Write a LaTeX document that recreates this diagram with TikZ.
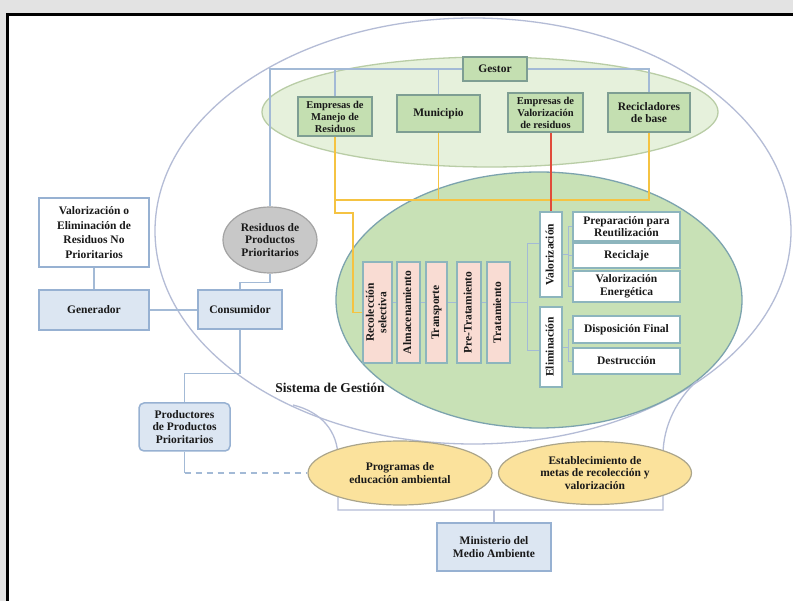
\documentclass[tikz,border=0pt]{standalone}
\usepackage{fontspec}
\usepackage{graphicx}
\setmainfont{Liberation Serif}
\usetikzlibrary{shapes.geometric,calc}
\pgfdeclarelayer{back}
\pgfdeclarelayer{bg}
\pgfsetlayers{back,bg,main}
\definecolor{bggray}{HTML}{E3E3E3}
\definecolor{outerbd}{HTML}{B4BCD6}
\definecolor{lgfill}{HTML}{E6F1DC}
\definecolor{lgbd}{HTML}{B9CDA6}
\definecolor{ggfill}{HTML}{C8E1B6}
\definecolor{ggbd}{HTML}{7CA3AE}
\definecolor{gboxfill}{HTML}{C4DFB1}
\definecolor{gboxbd}{HTML}{7E9E93}
\definecolor{bfill}{HTML}{DCE6F2}
\definecolor{bbd}{HTML}{97B1D2}
\definecolor{lnblue}{HTML}{A3BAD6}
\definecolor{pfill}{HTML}{F9DCD3}
\definecolor{tealbd}{HTML}{8DB5BD}
\definecolor{yfill}{HTML}{FBE29C}
\definecolor{ybd}{HTML}{ABA58B}
\definecolor{grfill}{HTML}{C8C8C8}
\definecolor{grbd}{HTML}{A3A3A3}
\definecolor{yline}{HTML}{F5C342}
\definecolor{rline}{HTML}{E04B3A}
\tikzset{
  txt/.style={font=\bfseries\fontsize{11.5}{12.5}\selectfont, align=center, inner sep=0pt, text=black!90},
  stdbox/.style={txt, rectangle, line width=1.5pt},
  gbox/.style={stdbox, draw=gboxbd, fill=gboxfill},
  bbox/.style={stdbox, draw=bbd, fill=bfill},
  wbox/.style={stdbox, draw=bbd, fill=white},
  pbox/.style={stdbox, draw=tealbd, fill=pfill, line width=1.8pt},
  tbox/.style={stdbox, draw=tealbd, fill=white, line width=1.8pt},
  yell/.style={txt, ellipse, draw=ybd, fill=yfill, line width=1.2pt},
  bl/.style={draw=lnblue, line width=1.4pt},
  thinl/.style={draw=lnblue, line width=0.9pt},
  yl/.style={draw=yline, line width=1.4pt},
  rd/.style={draw=rline, line width=1.4pt},
}
\newcommand{\vtext}[1]{\rotatebox{90}{\begin{tabular}{@{}c@{}}#1\end{tabular}}}
\begin{document}
\begin{tikzpicture}[x=1pt,y=-1pt]
\useasboundingbox (0,0) rectangle (793,601);

\begin{pgfonlayer}{back}
\fill[bggray] (0,0) rectangle (793,601);
\fill[white] (8,15) rectangle (793,601);
\draw[black, line width=3pt] (7.5,601) -- (7.5,14.5) -- (793,14.5);
\node[ellipse, draw=outerbd, line width=1.3pt, minimum width=636, minimum height=426, inner sep=0pt] (sistema) at (473,231) {};
\node[ellipse, draw=lgbd, fill=lgfill, line width=1.3pt, minimum width=456, minimum height=110, inner sep=0pt] (gzone) at (490,112) {};
\node[ellipse, draw=ggbd, fill=ggfill, line width=1.3pt, minimum width=406, minimum height=256, inner sep=0pt] (pzone) at (539,300) {};
\end{pgfonlayer}

% top green boxes
\node[gbox, minimum width=64, minimum height=24] (gestor) at (495,69) {Gestor};
\node[gbox, minimum width=74, minimum height=39, font=\bfseries\fontsize{10.5}{12}\selectfont] (emanejo) at (335,116.5) {Empresas de\\Manejo de\\Residuos};
\node[gbox, minimum width=83, minimum height=37] (municipio) at (438.5,113.5) {Municipio};
\node[gbox, minimum width=75, minimum height=39, font=\bfseries\fontsize{10.5}{12}\selectfont] (evalor) at (545.5,112.5) {Empresas de\\Valorización\\de residuos};
\node[gbox, minimum width=82, minimum height=39] (recicl) at (649,112.5) {Recicladores\\de base};

% left side
\node[wbox, minimum width=110, minimum height=69, font=\bfseries\fontsize{11.5}{14.5}\selectfont] (valelim) at (94,232.5) {Valorización o\\Eliminación de\\Residuos No\\Prioritarios};
\node[bbox, minimum width=110, minimum height=40] (generador) at (94,310) {Generador};
\node[bbox, minimum width=84, minimum height=39] (consumidor) at (240,309.5) {Consumidor};
\node[txt, ellipse, draw=grbd, fill=grfill, line width=1.2pt, minimum width=94, minimum height=66] (residuos) at (270,240) {Residuos de\\Productos\\Prioritarios};
\node[bbox, rounded corners=5pt, minimum width=91, minimum height=48] (productores) at (184.5,427) {Productores\\de Productos\\Prioritarios};

% process boxes
\node[pbox, minimum width=29, minimum height=101] (rec) at (377.5,312.5) {\vtext{Recolección\\selectiva}};
\node[pbox, minimum width=23, minimum height=101] (alm) at (408.5,312.5) {\vtext{Almacenamiento}};
\node[pbox, minimum width=21, minimum height=101] (tra) at (436.5,312.5) {\vtext{Transporte}};
\node[pbox, minimum width=24, minimum height=101] (pre) at (469,312.5) {\vtext{Pre-Tratamiento}};
\node[pbox, minimum width=23, minimum height=101] (trat) at (498.5,312.5) {\vtext{Tratamiento}};
\node[tbox, minimum width=22, minimum height=85] (valoriz) at (551,254.5) {\vtext{Valorización}};
\node[tbox, minimum width=22, minimum height=80] (elim) at (551,347) {\vtext{Eliminación}};

% right boxes
\node[tbox, minimum width=107, minimum height=29] (prep) at (626.5,226.5) {Preparación para\\Reutilización};
\node[tbox, minimum width=107, minimum height=25] (recic) at (626.5,255.5) {Reciclaje};
\node[tbox, minimum width=107, minimum height=31] (venerg) at (626.5,286.5) {Valorización\\Energética};
\node[tbox, minimum width=107, minimum height=27] (dispf) at (626.5,329.5) {Disposición Final};
\node[tbox, minimum width=107, minimum height=26] (destr) at (626.5,361) {Destrucción};

% bottom
\node[yell, minimum width=184, minimum height=64] (programas) at (400,473) {Programas de\\educación ambiental};
\node[yell, minimum width=193, minimum height=63] (establec) at (595,473) {Establecimiento de\\metas de recolección y\\valorización};
\node[bbox, minimum width=114, minimum height=48] (ministerio) at (494,547) {Ministerio del\\Medio Ambiente};

\node[txt, font=\bfseries\fontsize{13.5}{15}\selectfont] (sislabel) at (330,388) {Sistema de Gestión};

\begin{pgfonlayer}{bg}
% gestor bar
\draw[bl] (gestor.west) -| (residuos.north);
\draw[bl] (gestor.east) -| (recicl.north);
\draw[bl] (emanejo.north) -- (emanejo.north |- gestor.west);
\draw[bl] (municipio.north) -- (municipio.north |- gestor.west);
% yellow links
\coordinate (ybar) at (0,200);
\coordinate (yturn) at (353,213);
\draw[yl] (recicl.south) |- (emanejo.south |- ybar);
\draw[yl] (municipio.south) -- (municipio.south |- ybar);
\draw[yl] (emanejo.south) |- (yturn) |- (rec.west);
% red link
\draw[rd] (valoriz.north) -- (valoriz.north |- evalor.south);
% process chain
\coordinate (lvl) at (0,302);
\foreach \a/\b in {rec/alm, alm/tra, tra/pre, pre/trat}
  \draw[thinl] (\a.east |- lvl) -- (\b.west |- lvl);
\coordinate (brk) at (527,302);
\draw[thinl] (trat.east |- lvl) -- (brk);
\coordinate (vtop) at (0,243);
\coordinate (vbot) at (0,350);
\draw[thinl] (valoriz.west |- vtop) -| (brk |- vbot) -- (elim.west |- vbot);
\foreach \n in {prep,recic,venerg}
  \draw[thinl] (valoriz.east) -- ++(6,0) |- (\n.west);
\foreach \n in {dispf,destr}
  \draw[thinl] (elim.east) -- ++(6,0) |- (\n.west);
% left links
\draw[bl] (valelim.south) -- (generador.north);
\draw[bl] (generador.east) -- (generador.east -| consumidor.west);
\draw[bl] (residuos.south) -- ++(0,9) -| (consumidor.north);
\draw[bl] (consumidor.south) -- ++(0,44) -| (productores.north);
\draw[bl] (productores.south) -- (productores.south |- programas.west) coordinate (pc);
\draw[bl, dashed, dash pattern=on 6pt off 5pt] (pc) -- (programas.west);
% brace under the system
\coordinate (bl1) at (293,405);
\coordinate (br1) at (697,381);
\coordinate (bbar) at (0,510);
\draw[draw=outerbd, line width=1.3pt] (bl1) .. controls (322,412) and (338,432) .. (338,458) -- (338,510) -- (663,510) -- (663,455) .. controls (663,425) and (678,398) .. (br1);
\draw[draw=outerbd, line width=1.3pt] (ministerio.north) -- (ministerio.north |- bbar);
\end{pgfonlayer}
\end{tikzpicture}
\end{document}
